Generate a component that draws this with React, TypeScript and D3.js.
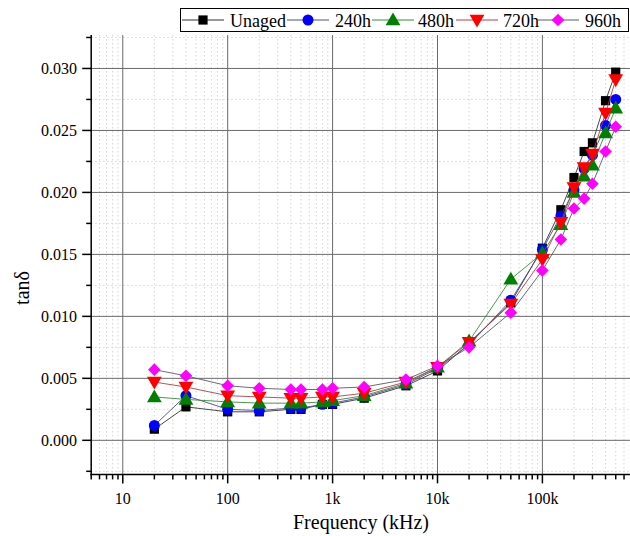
import React from "react";
import * as d3 from "d3";

// Frequencies (kHz) and loss tangent per ageing time
const freqs = [20, 40, 100, 200, 400, 500, 800, 1000, 2000, 5000, 10000, 20000, 50000, 100000, 150000, 200000, 250000, 300000, 400000, 500000];
const unaged = [0.0009, 0.0027, 0.0023, 0.0023, 0.0025, 0.0025, 0.0029, 0.0029, 0.0034, 0.0044, 0.0056, 0.0078, 0.0111, 0.0155, 0.0186, 0.0212, 0.0233, 0.0240, 0.0274, 0.0297];
const aged240 = [0.0012, 0.0036, 0.0025, 0.0024, 0.0026, 0.0026, 0.0029, 0.0030, 0.0035, 0.0045, 0.0058, 0.0077, 0.0113, 0.0154, 0.0181, 0.0202, 0.0219, 0.0230, 0.0254, 0.0275];
const aged480 = [0.0035, 0.0033, 0.0031, 0.0030, 0.0030, 0.0030, 0.0031, 0.0032, 0.0036, 0.0046, 0.0059, 0.0080, 0.0130, 0.0151, 0.0174, 0.0200, 0.0213, 0.0222, 0.0248, 0.0268];
const aged720 = [0.0047, 0.0043, 0.0036, 0.0035, 0.0034, 0.0034, 0.0035, 0.0035, 0.0038, 0.0047, 0.0059, 0.0079, 0.0110, 0.0146, 0.0176, 0.0204, 0.0220, 0.0231, 0.0264, 0.0291];
const aged960 = [0.0057, 0.0052, 0.0044, 0.0042, 0.0041, 0.0041, 0.0041, 0.0042, 0.0043, 0.0049, 0.0060, 0.0075, 0.0103, 0.0137, 0.0162, 0.0187, 0.0195, 0.0207, 0.0233, 0.0253];

const seriesNames = ["Unaged", "240h", "480h", "720h", "960h"];
const seriesValues = [unaged, aged240, aged480, aged720, aged960];

const xTickValues = [10, 100, 1000, 10000, 100000];
const xTickLabels = ["10", "100", "1k", "10k", "100k"];
const yTickValues = [0, 0.005, 0.01, 0.015, 0.02, 0.025, 0.03];

const W = 630;
const H = 536;
const left = 91.2;
const top = 35;
const bottom = 474.4;
const plotRight = 647.3;

const markerFill = ["#000000", "#0000ff", "#008000", "#ff0000", "#ff00ff"];
const lineColor = ["#333333", "#4a4a9a", "#3a8a3a", "#b04040", "#5a5a6a"];
const FONT = '"Liberation Serif", "Times New Roman", "DejaVu Serif", serif';

const x = d3.scaleLog().domain([5, 1e6]).range([left, plotRight]);
const y = d3.scaleLinear().domain([-0.00275, 0.0327]).range([bottom, top]);

function markerPath(i: number): { d: string; rotate: number } {
  // square, circle, up-triangle, down-triangle, diamond (square turned 45°)
  const kinds = [d3.symbolSquare, d3.symbolCircle, d3.symbolTriangle, d3.symbolTriangle, d3.symbolSquare];
  const sizes = [85, 95, 95, 95, 80];
  const d = d3.symbol().type(kinds[i]).size(sizes[i])() as string;
  const rot = [0, 0, 0, 180, 45];
  return { d, rotate: rot[i] };
}

function Marker({ i, cx, cy }: { i: number; cx: number; cy: number }) {
  const m = markerPath(i);
  const dy = i === 2 ? 1 : i === 3 ? -1 : 0;
  return (
    <path
      d={m.d}
      transform={`translate(${cx},${cy + dy}) rotate(${m.rotate})`}
      fill={markerFill[i]}
      stroke="none"
    />
  );
}

export default function App() {
  // minor ticks for the log axis: 2..9 in each decade inside the domain
  const xMinor: number[] = [];
  for (let e = 0; e <= 5; e++) {
    for (let k = 2; k <= 9; k++) {
      const v = k * Math.pow(10, e);
      if (v >= 5 && v < 1e6) xMinor.push(v);
    }
  }
  const yMinor = d3.range(-0.0025, 0.0326, 0.005);

  const line = d3
    .line<number>()
    .x((_, j) => x(freqs[j]))
    .y((v) => y(v));

  const legendMarkX = [203, 308, 393, 477, 558];
  const legendTextX = [230, 335, 418, 503, 585];

  return (
    <svg
      width={W}
      height={H}
      style={{ position: "absolute", left: 0, top: 0, background: "#fff", fontFamily: FONT }}
    >
      <rect x={0} y={0} width={W} height={H} fill="#fff" />

      {/* minor grid */}
      <g stroke="#d6d6d6" strokeWidth={1} strokeDasharray="1.5,2.5">
        {xMinor.map((v) => (
          <line key={"xm" + v} x1={x(v)} x2={x(v)} y1={top} y2={bottom} />
        ))}
        {yMinor.map((v) => (
          <line key={"ym" + v} x1={left} x2={W} y1={y(v)} y2={y(v)} />
        ))}
      </g>

      {/* major grid */}
      <g stroke="#6a6a6a" strokeWidth={1}>
        {xTickValues.map((v) => (
          <line key={"xg" + v} x1={x(v)} x2={x(v)} y1={top} y2={bottom} />
        ))}
        {yTickValues.map((v) => (
          <line key={"yg" + v} x1={left} x2={W} y1={y(v)} y2={y(v)} />
        ))}
      </g>

      {/* series */}
      {seriesValues.map((vals, i) => (
        <g key={seriesNames[i]}>
          <path d={line(vals) as string} fill="none" stroke={lineColor[i]} strokeWidth={0.9} />
          {vals.map((v, j) => (
            <Marker key={j} i={i} cx={x(freqs[j])} cy={y(v)} />
          ))}
        </g>
      ))}

      {/* axes */}
      <g stroke="#000" strokeWidth={1.5}>
        <line x1={left} x2={left} y1={top} y2={bottom + 0.75} />
        <line x1={left - 0.75} x2={W} y1={bottom} y2={bottom} />
        {xTickValues.map((v) => (
          <line key={"xt" + v} x1={x(v)} x2={x(v)} y1={bottom} y2={bottom + 9} />
        ))}
        {xMinor.map((v) => (
          <line key={"xmt" + v} x1={x(v)} x2={x(v)} y1={bottom} y2={bottom + 5} />
        ))}
        {yTickValues.map((v) => (
          <line key={"yt" + v} x1={left - 9} x2={left} y1={y(v)} y2={y(v)} />
        ))}
        {yMinor.map((v) => (
          <line key={"ymt" + v} x1={left - 5} x2={left} y1={y(v)} y2={y(v)} />
        ))}
      </g>

      {/* tick labels */}
      <g fontSize={16} fill="#000" style={{ fontFamily: FONT }}>
        {xTickValues.map((v, k) => (
          <text key={"xl" + v} x={x(v)} y={504} textAnchor="middle">
            {xTickLabels[k]}
          </text>
        ))}
        {yTickValues.map((v) => (
          <text key={"yl" + v} x={77} y={y(v)} dy="0.35em" textAnchor="end">
            {d3.format(".3f")(v)}
          </text>
        ))}
      </g>

      {/* axis titles */}
      <text x={361} y={529} fontSize={20} textAnchor="middle" fill="#000" style={{ fontFamily: FONT }}>
        Frequency (kHz)
      </text>
      <text
        transform="translate(29,288) rotate(-90)"
        fontSize={20}
        textAnchor="middle"
        fill="#000"
        style={{ fontFamily: FONT }}
      >
        tanδ
      </text>

      {/* legend */}
      <g>
        <rect x={180.5} y={8.5} width={448} height={23} fill="#fff" stroke="#000" strokeWidth={1} />
        {seriesNames.map((name, i) => (
          <g key={"lg" + name}>
            <line
              x1={legendMarkX[i] - 21}
              x2={legendMarkX[i] + 21}
              y1={20}
              y2={20}
              stroke={lineColor[i]}
              strokeWidth={1}
            />
            <Marker i={i} cx={legendMarkX[i]} cy={20} />
            <text x={legendTextX[i]} y={26.5} fontSize={18} fill="#000" style={{ fontFamily: FONT }}>
              {name}
            </text>
          </g>
        ))}
      </g>
    </svg>
  );
}
